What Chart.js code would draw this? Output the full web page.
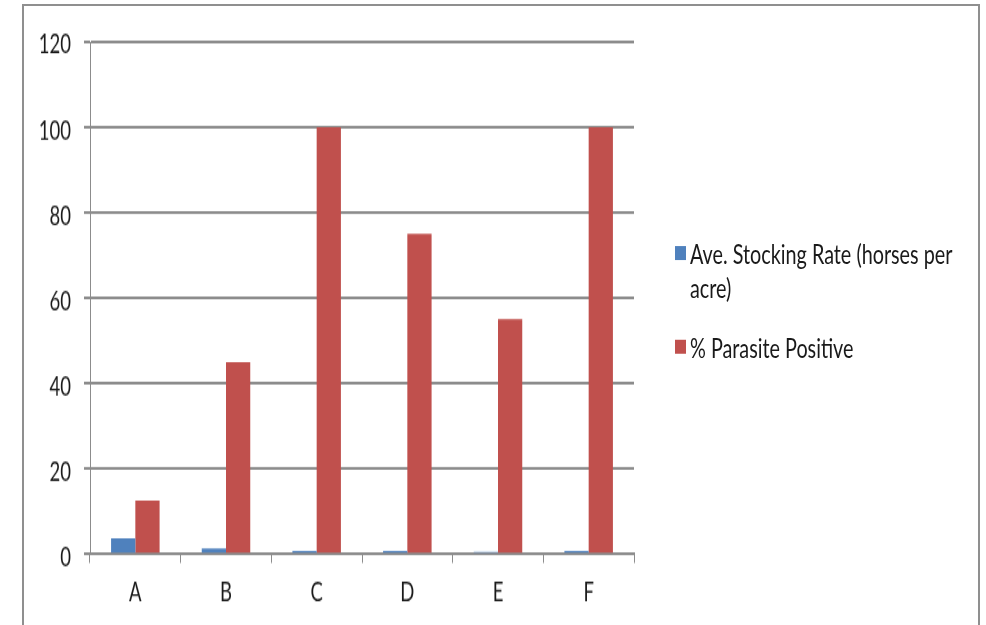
<!DOCTYPE html>
<html>
<head>
<meta charset="utf-8">
<title>Stocking rate and parasite positive</title>
<script src="https://cdn.jsdelivr.net/npm/chart.js@4.4.1/dist/chart.umd.min.js"></script>
<style>
  body { margin: 0; background: #fff; width: 986px; height: 625px; overflow: hidden; position: relative; }
  #frame { position: absolute; left: 22px; top: 4px; width: 958px; height: 700px; border: 2px solid #8f8f8f; box-sizing: border-box; }
  /* the chart is drawn short and stretched tall, like the exported image */
  #wrap { position: absolute; left: 0; top: 0; width: 986px; height: 447px; transform: scaleY(1.3982); transform-origin: 0 0; }
  #chart { display: block; width: 986px; height: 447px; }
  #legend { position: absolute; left: 676px; top: 169px; width: 292px; font: 19.8px Lato, "Open Sans", sans-serif; color: #1a1a1a; }
  #legend .item { position: relative; padding-left: 14px; line-height: 24.3px; margin-bottom: 18.5px; }
  #legend .box { position: absolute; left: -1px; top: 6.5px; width: 11px; height: 10px; }
</style>
</head>
<body>
<div id="frame"></div>
<div id="wrap">
  <canvas id="chart" width="986" height="447"></canvas>
  <div id="legend"></div>
</div>
<script>
// farms on the x axis, two series per farm
const categories = ["A", "B", "C", "D", "E", "F"];
const stockingRate = [3.7, 1.3, 0.7, 0.7, 0.5, 0.7];
const parasitePositive = [12.5, 45, 100, 75, 55, 100];
const seriesNames = ["Ave. Stocking Rate (horses per acre)", "% Parasite Positive"];
const seriesColors = ["#4F81BD", "#C0504D"];

const yMin = 0, yMax = 120, yStep = 20;
const fontFamily = "Lato, 'Open Sans', sans-serif";
const gridGray = "#8c8c8c";

const chart = new Chart("chart", {
  type: "bar",
  data: {
    labels: categories,
    datasets: [{
      label: seriesNames[0],
      data: stockingRate,
      backgroundColor: seriesColors[0]
    }, {
      label: seriesNames[1],
      data: parasitePositive,
      backgroundColor: seriesColors[1]
    }]
  },
  options: {
    responsive: false,
    animation: false,
    categoryPercentage: 0.535,
    barPercentage: 1,
    layout: { padding: { left: 30, right: 352, top: 30, bottom: 0 } },
    plugins: {
      legend: { display: false },
      tooltip: { enabled: false }
    },
    scales: {
      x: {
        grid: { offset: true, drawOnChartArea: false, color: gridGray, lineWidth: 1, tickLength: 6.4 },
        border: { color: gridGray, width: 2 },
        ticks: { color: "#1a1a1a", padding: 10.4, font: { family: fontFamily, size: 18.5 } },
        afterFit: function (scale) { scale.height = 50.8; }
      },
      y: {
        min: yMin,
        max: yMax,
        grid: { color: gridGray, lineWidth: 2, tickLength: 6 },
        border: { color: gridGray, width: 1 },
        ticks: { stepSize: yStep, color: "#1a1a1a", padding: 13, labelOffset: 2.5, font: { family: fontFamily, size: 18.5 } },
        afterFit: function (scale) { scale.width = 60; }
      }
    }
  }
});

// legend beside the plot, wraps onto two lines for the first series
const legend = document.getElementById("legend");
chart.data.datasets.forEach(function (ds) {
  const item = document.createElement("div");
  item.className = "item";
  const box = document.createElement("span");
  box.className = "box";
  box.style.background = ds.backgroundColor;
  item.appendChild(box);
  item.appendChild(document.createTextNode(ds.label));
  legend.appendChild(item);
});
</script>
</body>
</html>
